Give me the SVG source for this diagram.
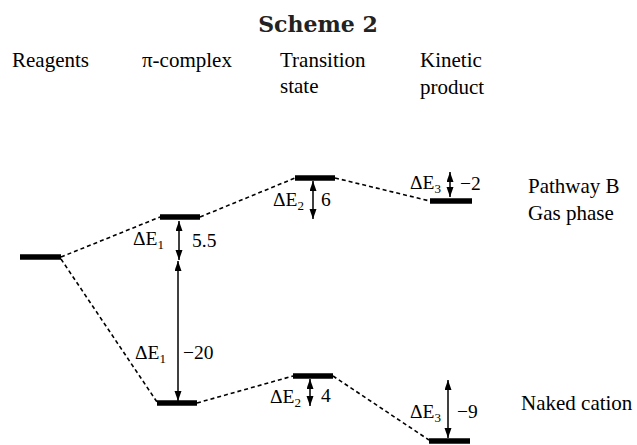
<svg xmlns="http://www.w3.org/2000/svg" width="637" height="445" viewBox="0 0 637 445">
<defs>
<marker id="ah" markerUnits="userSpaceOnUse" markerWidth="11" markerHeight="8" refX="10" refY="3.5" orient="auto-start-reverse"><path d="M0,0 L10,3.5 L0,7 z" fill="#000"/></marker>
</defs>
<style>
.h{font-size:21px}
.t{font-weight:bold;font-size:22px}
.l{font-size:19.5px}
.s{font-size:13px}
.bar{stroke:#000;stroke-width:5.5;fill:none}
.dash{stroke:#000;stroke-width:1.6;stroke-dasharray:4 3;fill:none}
.arr{stroke:#000;stroke-width:1.5;fill:none;marker-start:url(#ah);marker-end:url(#ah)}
</style>
<rect width="637" height="445" fill="#fff"/>
<g id="header" font-family="'Liberation Serif', 'Times New Roman', serif" fill="#000">
<text class="t" x="318" y="32" text-anchor="middle" font-family="'DejaVu Serif', serif" fill="#222">Scheme 2</text>
<text class="h" x="12" y="67">Reagents</text>
<text class="h" x="142" y="67">π-complex</text>
<text class="h" x="280" y="67">Transition</text>
<text class="h" x="280" y="93">state</text>
<text class="h" x="420" y="67">Kinetic</text>
<text class="h" x="420" y="94">product</text>
<text class="h" x="528" y="193">Pathway B</text>
<text class="h" x="528" y="220">Gas phase</text>
<text class="h" x="521" y="410">Naked cation</text>
</g>
<g id="connectors">
<path class="dash" d="M61,257 L160,217"/>
<path class="dash" d="M200,217 L295,178"/>
<path class="dash" d="M335,178 L430,201"/>
<path class="dash" d="M61,259 L157,402"/>
<path class="dash" d="M197,403 L293,376"/>
<path class="dash" d="M333,376 L429,440"/>
<path class="arr" d="M179,221 L179,260"/>
<path class="arr" d="M178,261 L178,401"/>
<path class="arr" d="M313,181 L313,219"/>
<path class="arr" d="M450,172 L450,197"/>
<path class="arr" d="M310,379 L310,406"/>
<path class="arr" d="M448,380 L448,438"/>
</g>
<g id="reagents"><path class="bar" d="M20,257 H61"/></g>
<g id="pi-complex-gas"><path class="bar" d="M160,217 H200"/></g>
<g id="ts-gas"><path class="bar" d="M295,178 H335"/></g>
<g id="kinetic-gas"><path class="bar" d="M430,201 H472"/></g>
<g id="pi-complex-naked"><path class="bar" d="M157,403 H197"/></g>
<g id="ts-naked"><path class="bar" d="M293,376 H333"/></g>
<g id="kinetic-naked"><path class="bar" d="M429,441 H470"/></g>
<g id="labels" font-family="'Liberation Serif', 'Times New Roman', serif" fill="#000">
<text class="l" x="133" y="245">ΔE<tspan class="s" dy="4">1</tspan></text>
<text class="l" x="192" y="247">5.5</text>
<text class="l" x="135" y="359">ΔE<tspan class="s" dy="4">1</tspan></text>
<text class="l" x="183" y="359">−20</text>
<text class="l" x="273" y="206">ΔE<tspan class="s" dy="4">2</tspan></text>
<text class="l" x="321" y="206">6</text>
<text class="l" x="410" y="189">ΔE<tspan class="s" dy="4">3</tspan></text>
<text class="l" x="460" y="190">−2</text>
<text class="l" x="270" y="403">ΔE<tspan class="s" dy="4">2</tspan></text>
<text class="l" x="321" y="402">4</text>
<text class="l" x="410" y="418">ΔE<tspan class="s" dy="4">3</tspan></text>
<text class="l" x="457" y="418">−9</text>
</g>
</svg>
